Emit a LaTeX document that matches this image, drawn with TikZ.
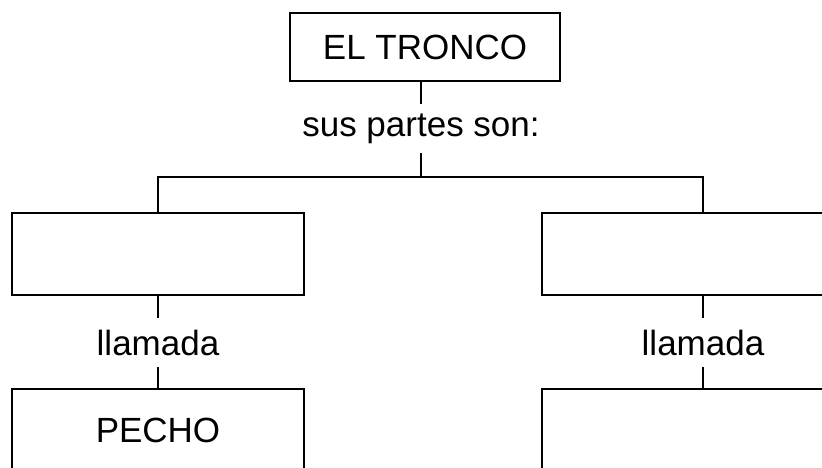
\documentclass[tikz,border=0pt]{standalone}
\usepackage{fontspec}
\setmainfont{Liberation Sans}
\usetikzlibrary{positioning}
\tikzset{caja/.style={draw=black, line width=2.8pt, inner sep=0pt, minimum width=292pt, minimum height=82pt, font=\fontsize{35}{42}\selectfont}}
\tikzset{etiq/.style={inner sep=0pt, minimum height=49pt, font=\fontsize{35}{42}\selectfont}}
\tikzset{linea/.style={line width=1.3pt}}
\begin{document}
\begin{tikzpicture}[x=1pt, y=-1pt]
    \useasboundingbox (0,0) rectangle (822,467);
    \clip (0,0) rectangle (822,467);

    \node[caja, line width=2.2pt, minimum width=270pt, minimum height=68pt] (tronco) at (425,47) {EL TRONCO};
    \node[etiq] (partes) at (421,128.5) {sus partes son:};
    \coordinate (rama) at (421,177);

    \node[caja] (izq) at (158,254) {};
    \node[caja, minimum width=322pt] (der) at (703,254) {};

    \node[etiq] (llamIzq) at (158,342.5) {llamada};
    \node[etiq] (llamDer) at (703,342.5) {llamada};

    \node[caja] (pecho) at (158,430) {PECHO};
    \node[caja, minimum width=322pt] (derAbajo) at (703,430) {};

    \draw[linea] (partes.north |- tronco.south) -- (partes.north);
    \draw[linea] (partes) -- (rama);
    \draw[linea] (izq.north) |- (rama) -| (der.north);
    \draw[linea] (izq) -- (llamIzq);
    \draw[linea] (llamIzq) -- (pecho);
    \draw[linea] (der) -- (llamDer);
    \draw[linea] (llamDer) -- (derAbajo);
\end{tikzpicture}
\end{document}
